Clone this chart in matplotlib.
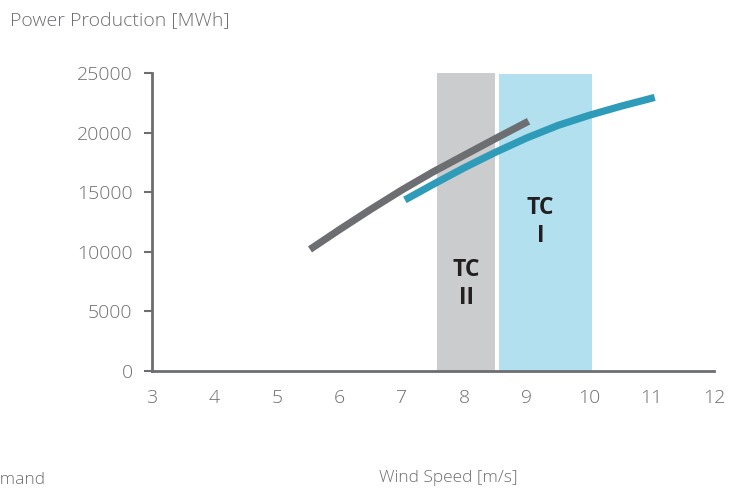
import matplotlib.pyplot as plt

plt.rcParams['font.family'] = ['Open Sans', 'DejaVu Sans']

# wind speed [m/s] vs power production [MWh]
wind_tc2 = [5.53, 6.0, 6.5, 7.0, 7.5, 8.0, 8.5, 9.03]
power_tc2 = [10200, 11850, 13550, 15180, 16700, 18100, 19500, 20950]
wind_tc1 = [7.05, 7.5, 8.0, 8.5, 9.0, 9.5, 10.0, 10.5, 11.05]
power_tc1 = [14350, 15650, 17050, 18350, 19550, 20600, 21450, 22200, 22950]

# turbine class ranges
tc2_range = [7.57, 8.50]
tc1_range = [8.55, 10.05]

grey = '#6d6e71'
blue = '#2e9bb8'

fig = plt.figure(figsize=(7.4, 4.88), dpi=100)
ax = fig.add_axes([0.2054, 0.2398, 0.7595, 0.6106])

ax.axvspan(tc2_range[0], tc2_range[1], color='#cbcccd', lw=0, zorder=1)
ax.axvspan(tc1_range[0], tc1_range[1], ymax=0.997, color='#b2e0ee', lw=0, zorder=1)

ax.plot(wind_tc2, power_tc2, color=grey, lw=5.2, solid_capstyle='butt',
        solid_joinstyle='round', zorder=3)
ax.plot(wind_tc1, power_tc1, color=blue, lw=5.2, solid_capstyle='butt',
        solid_joinstyle='round', zorder=3)

ax.text(8.03, 7300, 'TC\nII', ha='center', va='center', fontsize=16.5,
        fontweight='bold', color='#231f20', linespacing=1.2, zorder=4)
ax.text(9.22, 12500, 'TC\nI', ha='center', va='center', fontsize=16.5,
        fontweight='bold', color='#231f20', linespacing=1.2, zorder=4)

ax.set_xlim(3, 12)
ax.set_ylim(0, 25000)
ax.set_xticks(range(3, 13))
ax.set_yticks(range(0, 25001, 5000))

for s in ['top', 'right']:
    ax.spines[s].set_visible(False)
for s in ['left', 'bottom']:
    ax.spines[s].set_color(grey)
    ax.spines[s].set_linewidth(2)

ax.tick_params(axis='x', length=0, pad=13, labelsize=14, labelcolor=grey)
ax.tick_params(axis='y', length=6, width=1.5, color=grey, pad=8,
               labelsize=14, labelcolor=grey)
for lbl in ax.get_xticklabels() + ax.get_yticklabels():
    lbl.set_fontweight('light')

fig.text(10 / 740, 1 - 20 / 488, 'Power Production [MWh]', ha='left',
         va='center', fontsize=14, color=grey, fontweight='light')
fig.text(448 / 740, 1 - 478 / 488, 'Wind Speed [m/s]', ha='center',
         va='center', fontsize=12.5, color=grey, fontweight='light')
fig.text(45 / 740, 1 - 480 / 488, 'Demand', ha='right', va='center',
         fontsize=12.5, color=grey, fontweight='light')

fig.savefig('out.png', dpi=100)
